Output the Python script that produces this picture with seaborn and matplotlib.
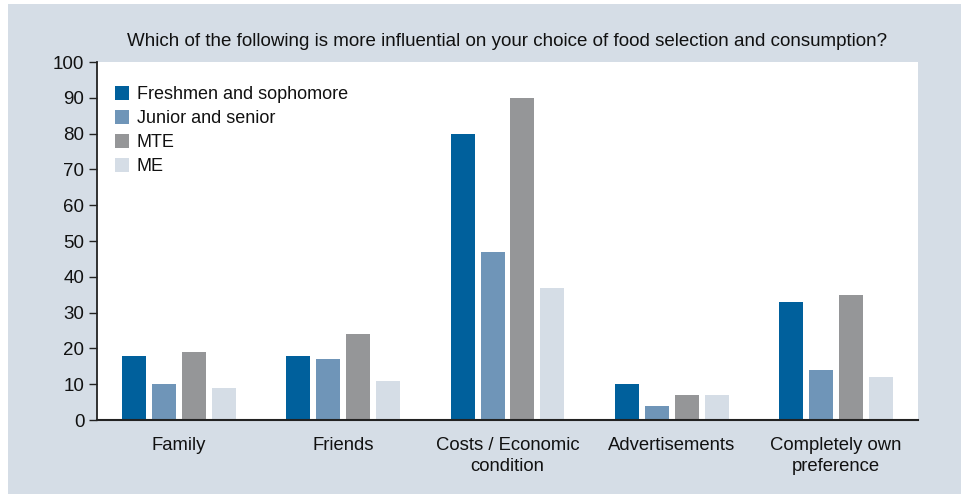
import matplotlib
matplotlib.use("Agg")
import matplotlib.pyplot as plt
import seaborn as sns
import pandas as pd
from matplotlib.patches import Rectangle

categories = ["Family", "Friends", "Costs / Economic\ncondition", "Advertisements", "Completely own\npreference"]
series = ["Freshmen and sophomore", "Junior and senior", "MTE", "ME"]
freshmen = [18, 18, 80, 10, 33]
junior = [10, 17, 47, 4, 14]
mte = [19, 24, 90, 7, 35]
me = [9, 11, 37, 7, 12]
colors = ["#00609c", "#6f95b8", "#959698", "#d5dde6"]
title = "Which of the following is more influential on your choice of food selection and consumption?"

rows = []
for s, vals in zip(series, [freshmen, junior, mte, me]):
    for c, v in zip(categories, vals):
        rows.append({"category": c, "series": s, "value": v})
df = pd.DataFrame(rows)

sns.set_theme(style="white")
plt.rcParams["font.family"] = ["Liberation Sans", "DejaVu Sans"]

W, H = 962, 494
fig = plt.figure(figsize=(W / 100, H / 100), dpi=100, facecolor="white")
fig.patches.append(Rectangle((8 / W, 0), 1 - 8 / W, 1 - 4 / H, transform=fig.transFigure,
                             facecolor="#d5dde6", edgecolor="none", zorder=-10))
ax = fig.add_axes([97 / W, 1 - 420 / H, (918 - 97) / W, (420 - 62) / H])
ax.set_facecolor("white")

sns.barplot(data=df, x="category", y="value", hue="series", order=categories, hue_order=series,
            palette=colors, width=0.73, gap=0.2, ax=ax, errorbar=None, saturation=1,
            edgecolor="none")

ax.set_xlim(-0.5, 4.5)
ax.set_ylim(0, 100)
ax.set_yticks(range(0, 101, 10))
ax.set_xlabel("")
ax.set_ylabel("")
for sp in ["top", "right"]:
    ax.spines[sp].set_visible(False)
ax.spines["left"].set_color("#222222")
ax.spines["bottom"].set_color("#222222")
ax.spines["left"].set_linewidth(1.3)
ax.spines["bottom"].set_linewidth(1.5)
ax.tick_params(axis="y", left=True, length=6, width=1, color="#222222", labelsize=13.5,
               labelcolor="#111111", pad=3)
ax.tick_params(axis="x", bottom=False, labelsize=13.3, labelcolor="#111111", pad=6)
for lab in ax.get_xticklabels():
    lab.set_linespacing(1.35)

fig.text(507 / W, 1 - 41 / H, title, ha="center", va="center", fontsize=13.5, color="#111111")

leg = ax.legend(loc="upper left", bbox_to_anchor=(0.013, 0.952), frameon=False, fontsize=13,
                handlelength=0.78, handleheight=0.78, handletextpad=0.42, labelspacing=0.38,
                borderaxespad=0)
for t in leg.get_texts():
    t.set_color("#111111")

fig.savefig("out.png", dpi=100, facecolor="white")
